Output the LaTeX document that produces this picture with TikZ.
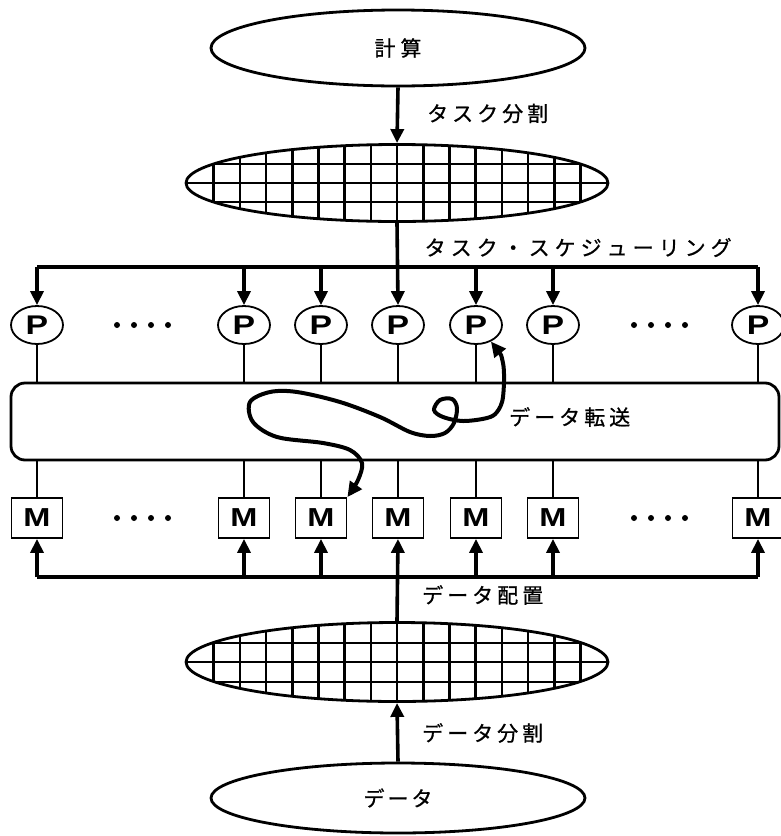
\documentclass[tikz,border=0pt]{standalone}
\usepackage{fontspec}
\setmainfont{Liberation Sans}
\newfontfamily\cjk{Noto Sans CJK JP}[FakeBold=0.8]
\newfontfamily\pmfont{Liberation Sans}[FakeStretch=1.25]
\usetikzlibrary{arrows.meta,shapes.geometric}
\makeatletter
\newcommand\spaced[2]{\@tfor\spch:=#2\do{\makebox[#1][c]{\spch}}}
\makeatother
\begin{document}
\begin{tikzpicture}[x=1pt,y=-1pt,
  oval/.style={draw, line width=2.8pt, ellipse, minimum width=374pt, minimum height=76pt, inner sep=0pt,
    font=\cjk\fontsize{21}{24}\selectfont},
  gridoval/.style={draw, line width=2.8pt, ellipse, minimum width=422pt, minimum height=77pt, inner sep=0pt},
  gridline/.style={line width=2.6pt},
  proc/.style={draw, line width=1.8pt, ellipse, minimum width=52pt, minimum height=38pt, inner sep=0pt,
    font=\pmfont\bfseries\fontsize{27}{27}\selectfont},
  mem/.style={draw, line width=1.8pt, rectangle, minimum width=51pt, minimum height=40pt, inner sep=0pt,
    font=\pmfont\bfseries\fontsize{26}{26}\selectfont},
  lbl/.style={font=\cjk\fontsize{21}{24}\selectfont, anchor=west, inner sep=0pt},
  bus/.style={line width=3.6pt},
  arr/.style={line width=3.6pt, -{Triangle[length=14pt,width=13pt]}},
  thinline/.style={line width=2.6pt},
  dot/.style={fill=black}
]
\useasboundingbox (0,0) rectangle (781,836);

% top and bottom ovals
\node[oval] (calc) at (398,48) {\spaced{26pt}{計算}};
\node[oval, minimum height=70pt] (data) at (398,798) {\spaced{24pt}{データ}};

% grid ovals
\node[gridoval] (g1) at (397,183) {};
\node[gridoval, minimum height=79pt] (g2) at (397,662) {};
\begin{scope}
  \clip (397,183) ellipse [x radius=211, y radius=38.5];
  \foreach \k in {-7,...,7} \draw[gridline] ({397+\k*26.2},140) -- ({397+\k*26.2},230);
  \foreach \yy in {164,183,202} \draw[gridline] (180,\yy) -- (615,\yy);
\end{scope}
\begin{scope}
  \clip (397,662) ellipse [x radius=211, y radius=39.5];
  \foreach \k in {-7,...,7} \draw[gridline] ({397+\k*26.2},615) -- ({397+\k*26.2},710);
  \foreach \yy in {643,662,682} \draw[gridline] (180,\yy) -- (615,\yy);
\end{scope}

% processors and memories
\foreach \i/\x in {1/37,2/244,3/321,4/398,5/476,6/553,7/758} {
  \node[proc] (p\i) at (\x,325) {P};
  \node[mem] (m\i) at (\x,518) {M};
}

% network box
\node[draw, line width=2.8pt, rounded corners=14pt, minimum width=768pt, minimum height=77pt] (net) at (395,421.5) {};

% buses
\coordinate (busT) at (398,267);
\coordinate (busB) at (398,577);
\draw[bus] (p1 |- busT) -- (p7 |- busT);
\draw[bus] (m1 |- busB) -- (m7 |- busB);
\foreach \i in {1,2,3,5,6,7} {
  \draw[arr] (p\i |- busT) -- (p\i.north);
  \draw[arr] (m\i |- busB) -- (m\i.south);
}
\foreach \i in {1,...,7} {
  \draw[thinline] (p\i.south) -- (p\i |- net.north);
  \draw[thinline] (m\i |- net.south) -- (m\i.north);
}

% vertical flow
\draw[arr] (calc.south) -- (g1.north);
\draw[arr] (g1.south) -- (p4.north);
\draw[arr] (g2.north) -- (m4.south);
\draw[arr] (data.north) -- (g2.south);

% dots
\foreach \x in {117,134,151,168,634,651,668,685} {
  \fill[dot] (\x,325) circle (3);
  \fill[dot] (\x,518) circle (3);
}

% data transfer curve
\draw[line width=4pt, {Triangle[length=15pt,width=14pt]}-{Triangle[length=15pt,width=14pt]}]
  plot[smooth, tension=0.55] coordinates {
   (p5.-48) (503,363) (503,397) (497,412) (487,418) (463,421) (443,417) (434,410) (440,400)
   (452,399) (457,408) (454,423) (445,433) (430,436) (410,432) (380,417) (340,402)
   (297,392) (270,392) (250,402) (253,422) (277,437) (323,443) (350,450) (362,463)
   (358,480) (m3.north east)};

% labels
\node[lbl] (l1) at (425,113.5) {\spaced{25pt}{タスク分割}};
\node[lbl] (l2) at (422,247.5) {\spaced{26pt}{タスク・スケジューリング}};
\node[lbl] (l3) at (507,417) {\spaced{25pt}{データ転送}};
\node[lbl] (l4) at (420,595) {\spaced{25pt}{データ配置}};
\node[lbl] (l5) at (420,733) {\spaced{25pt}{データ分割}};
\end{tikzpicture}
\end{document}
